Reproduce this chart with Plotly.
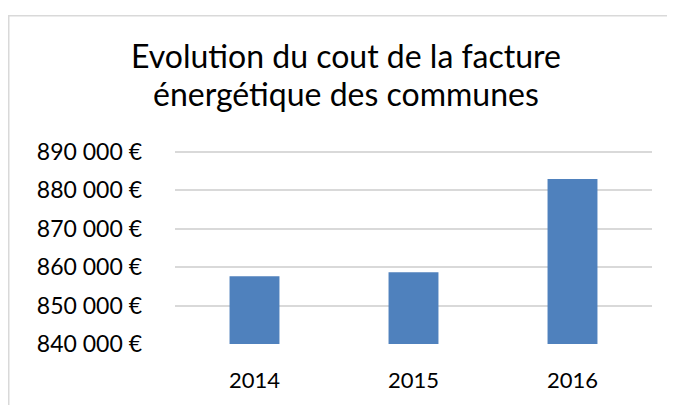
import plotly.graph_objects as go

years = ["2014", "2015", "2016"]
costs = [857650, 858660, 882960]
tick_values = [840000, 850000, 860000, 870000, 880000, 890000]
tick_labels = ["840 000 €", "850 000 €", "860 000 €", "870 000 €", "880 000 €", "890 000 €"]
title_lines = ["Evolution du cout de la facture", "énergétique des communes"]

# the page body has an 8px margin, so figure coords = screen coords - 8
OFF = 8
W, H = 667, 397
L, R, T, B = 175 - OFF, 23, 149.5 - OFF, 56
pw, ph = W - L - R, H - T - B

def px_x(x):
    return (x - OFF - L) / pw

def px_y(y):
    return (H - B - (y - OFF)) / ph

fig = go.Figure(
    go.Bar(
        x=years,
        y=costs,
        marker=dict(color="#4F81BD", line=dict(width=0)),
        width=0.314,
    )
)

title_centers = [52.5, 91.5]
annotations = [
    dict(
        text=line,
        xref="paper",
        yref="paper",
        x=px_x(346),
        y=px_y(cy),
        xanchor="center",
        yanchor="middle",
        showarrow=False,
        font=dict(family="Lato", size=32, color="#000000"),
    )
    for line, cy in zip(title_lines, title_centers)
]

fig.update_layout(
    width=W,
    height=H,
    margin=dict(l=L, r=R, t=T, b=B, pad=0),
    paper_bgcolor="white",
    plot_bgcolor="white",
    font=dict(family="Lato", color="#000000"),
    showlegend=False,
    annotations=annotations,
    xaxis=dict(
        showgrid=False,
        showline=False,
        ticks="",
        tickfont=dict(size=22),
        ticklabelstandoff=21,
    ),
    yaxis=dict(
        range=[840000, 890500],
        tickvals=tick_values,
        ticktext=tick_labels,
        showgrid=True,
        gridcolor="#d9d9d9",
        gridwidth=1.5,
        zeroline=False,
        showline=False,
        ticks="",
        tickfont=dict(size=23),
        ticklabelstandoff=32,
    ),
    shapes=[
        dict(
            type="rect",
            xref="paper",
            yref="paper",
            x0=px_x(8.75),
            x1=px_x(700),
            y0=px_y(430),
            y1=px_y(11.5),
            line=dict(color="#d9d9d9", width=1.5),
            fillcolor="rgba(0,0,0,0)",
            layer="below",
        )
    ],
)

fig.write_html("out.html")
